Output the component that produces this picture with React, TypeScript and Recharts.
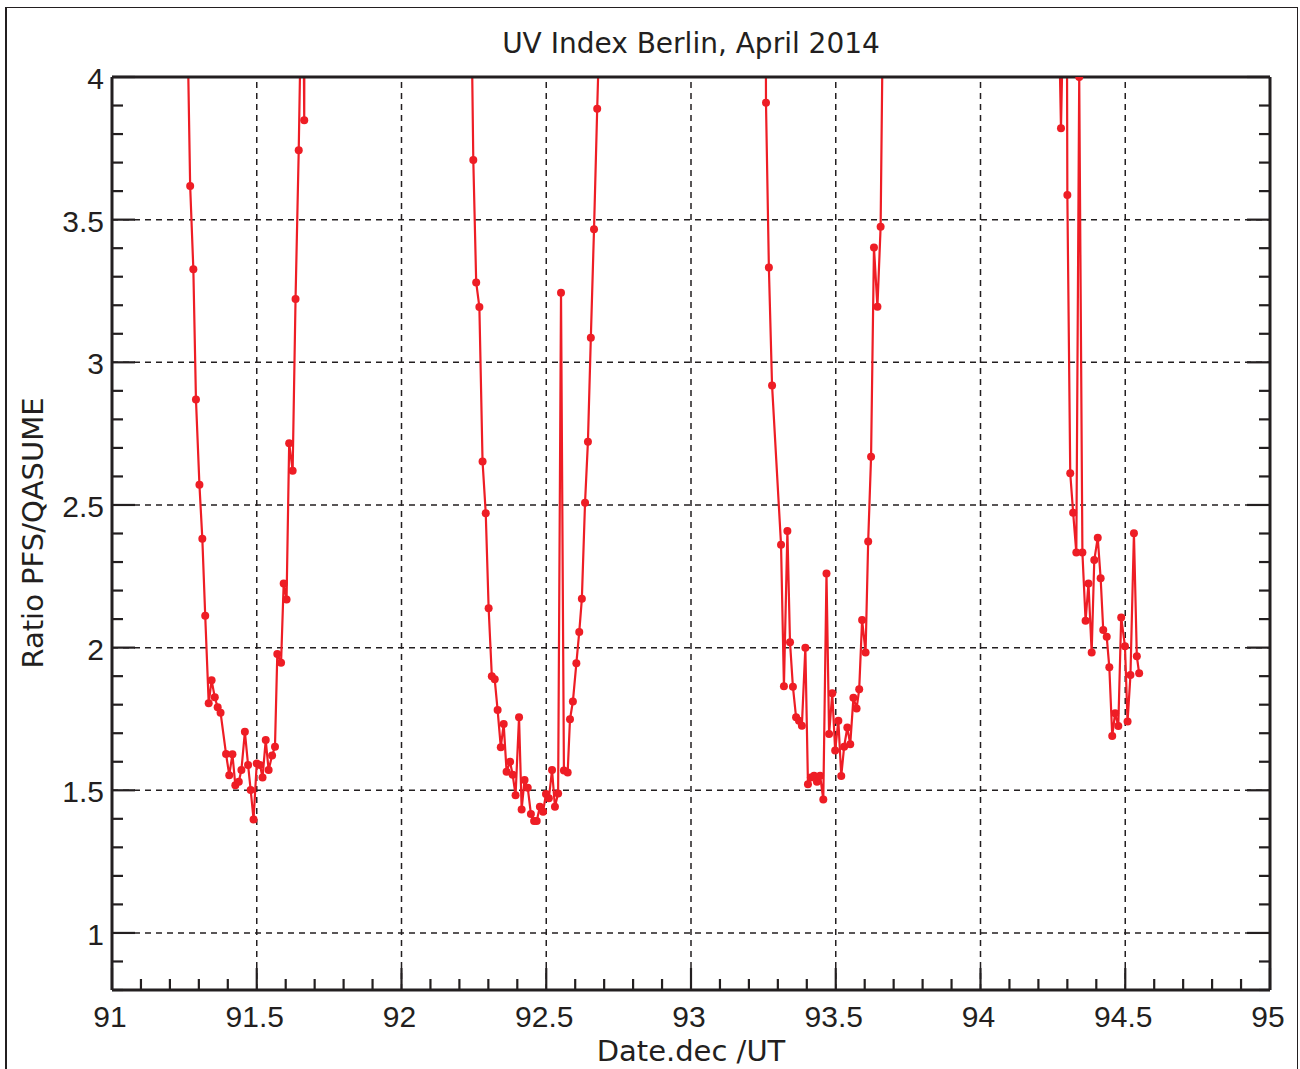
import { LineChart, Line, XAxis, YAxis, ReferenceLine } from "recharts";

// ratio PFS/QASUME vs decimal day, one array per day (values above 4 run off the top)
const day91: [number, number][] = [
  [91.247, 5.0], [91.27, 3.618], [91.281, 3.326], [91.29, 2.87], [91.302, 2.571],
  [91.312, 2.382], [91.322, 2.112], [91.334, 1.805], [91.344, 1.886], [91.355, 1.826],
  [91.365, 1.791], [91.375, 1.772], [91.394, 1.627], [91.405, 1.553], [91.416, 1.626],
  [91.426, 1.518], [91.438, 1.53], [91.447, 1.571], [91.459, 1.705], [91.47, 1.589],
  [91.479, 1.501], [91.489, 1.398], [91.5, 1.594], [91.511, 1.589], [91.52, 1.545],
  [91.531, 1.676], [91.541, 1.571], [91.553, 1.622], [91.563, 1.653], [91.571, 1.978],
  [91.584, 1.947], [91.593, 2.225], [91.603, 2.169], [91.612, 2.716], [91.624, 2.62],
  [91.634, 3.222], [91.645, 3.743], [91.659, 4.6], [91.664, 3.848], [91.666, 5.0],
];

const day92: [number, number][] = [
  [92.232, 5.0], [92.248, 3.709], [92.258, 3.28], [92.269, 3.194], [92.28, 2.652],
  [92.291, 2.471], [92.301, 2.138], [92.312, 1.9], [92.322, 1.889], [92.332, 1.781],
  [92.343, 1.651], [92.353, 1.732], [92.363, 1.565], [92.375, 1.6], [92.384, 1.554],
  [92.394, 1.483], [92.406, 1.756], [92.415, 1.433], [92.425, 1.536], [92.436, 1.509],
  [92.447, 1.417], [92.458, 1.392], [92.467, 1.392], [92.478, 1.442], [92.489, 1.425],
  [92.499, 1.487], [92.509, 1.472], [92.52, 1.571], [92.53, 1.442], [92.541, 1.489],
  [92.551, 3.244], [92.561, 1.569], [92.574, 1.562], [92.582, 1.749], [92.592, 1.811],
  [92.604, 1.945], [92.614, 2.055], [92.623, 2.171], [92.634, 2.508], [92.644, 2.722],
  [92.654, 3.086], [92.665, 3.466], [92.676, 3.889], [92.693, 4.5],
];

const day93: [number, number][] = [
  [93.257, 5.0], [93.259, 3.91], [93.269, 3.332], [93.28, 2.919], [93.311, 2.361],
  [93.321, 1.865], [93.333, 2.409], [93.342, 2.019], [93.352, 1.863], [93.363, 1.756],
  [93.373, 1.744], [93.383, 1.726], [93.395, 2.0], [93.404, 1.521], [93.414, 1.545],
  [93.425, 1.551], [93.435, 1.53], [93.446, 1.551], [93.457, 1.468], [93.468, 2.26],
  [93.477, 1.697], [93.488, 1.84], [93.498, 1.639], [93.509, 1.744], [93.519, 1.55],
  [93.529, 1.653], [93.54, 1.72], [93.55, 1.661], [93.561, 1.824], [93.572, 1.787],
  [93.581, 1.854], [93.591, 2.097], [93.603, 1.983], [93.612, 2.372], [93.622, 2.669],
  [93.632, 3.402], [93.644, 3.195], [93.655, 3.475], [93.671, 5.0],
];

const day94: [number, number][] = [
  [94.256, 5.0], [94.278, 3.82], [94.297, 4.8], [94.3, 3.586], [94.31, 2.611],
  [94.32, 2.473], [94.331, 2.333], [94.341, 4.0], [94.352, 2.333], [94.363, 2.094],
  [94.373, 2.225], [94.384, 1.983], [94.393, 2.307], [94.405, 2.385], [94.415, 2.243],
  [94.424, 2.062], [94.436, 2.038], [94.445, 1.931], [94.455, 1.69], [94.465, 1.77],
  [94.476, 1.725], [94.486, 2.106], [94.499, 2.005], [94.508, 1.741], [94.518, 1.904],
  [94.53, 2.401], [94.54, 1.97], [94.548, 1.91],
];

const days = [day91, day92, day93, day94];

// major tick labels / grid positions
const xMajor = [91, 91.5, 92, 92.5, 93, 93.5, 94, 94.5, 95];
const yMajor = [1, 1.5, 2, 2.5, 3, 3.5, 4];
// minor ticks every 0.1
const xTicks = Array.from({ length: 41 }, (_, i) => (910 + i) / 10);
const yTicks = Array.from({ length: 33 }, (_, i) => (8 + i) / 10);

const RED = "#ee1d25";
const INK = "#231f20";
const TICK_FONT = "'Liberation Sans', Arial, sans-serif";
const LABEL_FONT = "'DejaVu Sans', sans-serif";

const isMajor = (v: number) => Math.abs(v * 2 - Math.round(v * 2)) < 1e-6;
const fmt = (v: number) => String(Math.round(v * 10) / 10);

// plot box
const PL = 112;
const PR = 1270;
const PT = 77;
const PB = 990;

const BottomTick = ({ x, payload }: any) => {
  const major = isMajor(payload.value);
  return (
    <g>
      <line x1={x} x2={x} y1={PB} y2={PB - (major ? 22 : 11)} stroke={INK} strokeWidth={2.2} />
      {major && (
        <text x={x - 2} y={PB + 37} textAnchor="middle" fontSize={30} fontFamily={TICK_FONT} fill={INK}>
          {fmt(payload.value)}
        </text>
      )}
    </g>
  );
};

const TopTick = ({ x, payload }: any) => {
  const major = isMajor(payload.value);
  return <line x1={x} x2={x} y1={PT} y2={PT + (major ? 22 : 11)} stroke={INK} strokeWidth={2.2} />;
};

const LeftTick = ({ y, payload }: any) => {
  const major = isMajor(payload.value);
  return (
    <g>
      <line x1={PL} x2={PL + (major ? 23 : 11)} y1={y} y2={y} stroke={INK} strokeWidth={2.2} />
      {major && payload.value >= 1 && (
        <text x={PL - 8} y={y + 12} textAnchor="end" fontSize={30} fontFamily={TICK_FONT} fill={INK}>
          {fmt(payload.value)}
        </text>
      )}
    </g>
  );
};

const RightTick = ({ y, payload }: any) => {
  const major = isMajor(payload.value);
  return <line x1={PR} x2={PR - (major ? 23 : 11)} y1={y} y2={y} stroke={INK} strokeWidth={2.2} />;
};

const W = 1300;
const H = 1069;

export default function App() {
  return (
    <div style={{ position: "absolute", left: 0, top: 0, width: W, height: H, overflow: "hidden", background: "#fff" }}>
      <div
        style={{
          position: "absolute",
          left: 5,
          top: 7,
          width: 1290,
          height: 1120,
          borderLeft: `2px solid ${INK}`,
          borderTop: `1.5px solid ${INK}`,
          borderRight: `1.5px solid ${INK}`,
        }}
      />
      <div style={{ position: "absolute", left: 0, top: 0 }}>
        <LineChart width={W} height={H} margin={{ top: PT - 20, right: W - PR - 20, bottom: H - PB - 20, left: PL - 20 }}>
          <XAxis
            dataKey="x"
            type="number"
            domain={[91, 95]}
            ticks={xTicks}
            interval={0}
            height={20}
            tickLine={false}
            tick={<BottomTick />}
            axisLine={{ stroke: INK, strokeWidth: 3 }}
          />
          <XAxis
            xAxisId="top"
            orientation="top"
            dataKey="x"
            type="number"
            domain={[91, 95]}
            ticks={xTicks}
            interval={0}
            height={20}
            tickLine={false}
            tick={<TopTick />}
            axisLine={{ stroke: INK, strokeWidth: 3 }}
          />
          <YAxis
            type="number"
            domain={[0.8, 4]}
            allowDataOverflow
            ticks={yTicks}
            interval={0}
            width={20}
            tickLine={false}
            tick={<LeftTick />}
            axisLine={{ stroke: INK, strokeWidth: 3 }}
          />
          <YAxis
            yAxisId="right"
            orientation="right"
            type="number"
            domain={[0.8, 4]}
            allowDataOverflow
            ticks={yTicks}
            interval={0}
            width={20}
            tickLine={false}
            tick={<RightTick />}
            axisLine={{ stroke: INK, strokeWidth: 3 }}
          />
          {xMajor.slice(1, -1).map((v) => (
            <ReferenceLine key={`gx${v}`} x={v} stroke={INK} strokeWidth={1.5} strokeDasharray="6 5" />
          ))}
          {yMajor.slice(0, -1).map((v) => (
            <ReferenceLine key={`gy${v}`} y={v} stroke={INK} strokeWidth={1.5} strokeDasharray="6 5" />
          ))}
          {days.map((d, i) => (
            <Line
              key={i}
              data={d.map(([x, y]) => ({ x, y }))}
              dataKey="y"
              type="linear"
              stroke={RED}
              strokeWidth={2.2}
              dot={{ r: 4, fill: RED, stroke: RED, strokeWidth: 0 }}
              activeDot={false}
              isAnimationActive={false}
            />
          ))}
        </LineChart>
      </div>
      <svg width={W} height={H} style={{ position: "absolute", left: 0, top: 0, pointerEvents: "none" }}>
        <text x={691} y={53} textAnchor="middle" fontSize={28} fontFamily={LABEL_FONT} fill={INK}>
          UV Index Berlin, April 2014
        </text>
        <text x={691} y={1061} textAnchor="middle" fontSize={29} fontFamily={LABEL_FONT} fill={INK}>
          Date.dec /UT
        </text>
        <text
          x={0}
          y={0}
          transform="translate(43 533) rotate(-90)"
          textAnchor="middle"
          fontSize={29}
          fontFamily={LABEL_FONT}
          fill={INK}
        >
          Ratio PFS/QASUME
        </text>
      </svg>
    </div>
  );
}
